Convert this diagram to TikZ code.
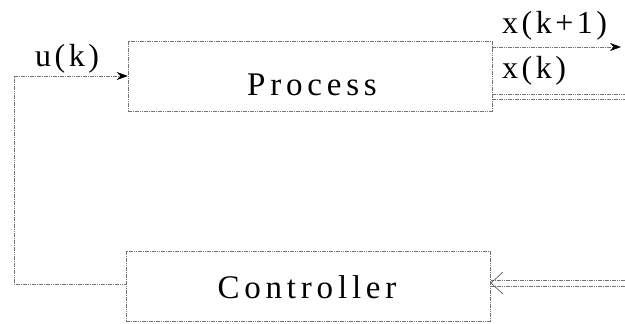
\documentclass[tikz,border=0pt]{standalone}
\usepackage{fontspec}
\newfontfamily\tms{Liberation Serif}
\usetikzlibrary{arrows.meta}
\newdimen\lspamt
\lspamt=5pt
\def\lsp#1{\lspB#1\relax}
\def\lspB#1{#1\lspA}
\def\lspA#1{\ifx#1\relax\else\kern\lspamt#1\expandafter\lspA\fi}
\def\bigtxt#1{\tms\fontsize{33}{40}\selectfont\lspamt=4.8pt\relax\lsp{#1}}
\def\labtxt#1{\tms\fontsize{32}{38}\selectfont\lspamt=3.5pt\relax\lsp{#1}}
\begin{document}
\begin{tikzpicture}[x=1pt,y=-1pt,
  wire/.style={draw=black!55, line width=0.6pt, dash pattern=on 1.6pt off 0.7pt},
  box/.style={wire, rectangle, inner sep=0pt},
  big/.style={inner sep=0pt, anchor=base},
  lab/.style={inner sep=0pt, anchor=base west},
  solidtip/.style={-{Stealth[length=11pt,width=8pt,black]}}
]
\useasboundingbox (0,0) rectangle (625,324);
% boxes
\node[box, minimum width=364pt, minimum height=70pt] (P) at (310,76) {};
\node[box, minimum width=364pt, minimum height=70pt] (C) at (308,286) {};
\node[big] (Pt) at (312,95) {\bigtxt{Process}};
\node[big] (Ct) at (307,298) {\bigtxt{Controller}};
% labels
\node[lab] (uk) at (35,66) {\labtxt{u(k)}};
\node[lab] (xk1) at (502,33) {\labtxt{x(k+1)}};
\node[lab] (xk) at (502,78) {\labtxt{x(k)}};
% coordinates
\coordinate (fbL) at (14,284);
\coordinate (fbT) at (14,76);
\coordinate (o1s) at (492,47);
\coordinate (o1e) at (621,47);
\coordinate (o2s) at (492,94);
\coordinate (o2e) at (625,94);
\coordinate (o3s) at (492,99);
\coordinate (o3e) at (625,99);
\coordinate (i1s) at (625,280);
\coordinate (i2s) at (625,286);
\coordinate (ctip) at (491,283);
% feedback from controller to process
\draw[wire] (C.west |- fbL) -- (fbL) -- (fbT);
\draw[wire, solidtip] (fbT) -- (P.west);
% outputs
\draw[wire, solidtip] (o1s) -- (o1e);
\draw[wire] (o2s) -- (o2e);
\draw[wire] (o3s) -- (o3e);
% input to controller
\draw[wire] (i1s) -- (ctip |- i1s);
\draw[wire] (i2s) -- (ctip |- i2s);
\draw[draw=black!70, line width=0.6pt] (503,272) -- (ctip) -- (503,294);
\end{tikzpicture}
\end{document}
